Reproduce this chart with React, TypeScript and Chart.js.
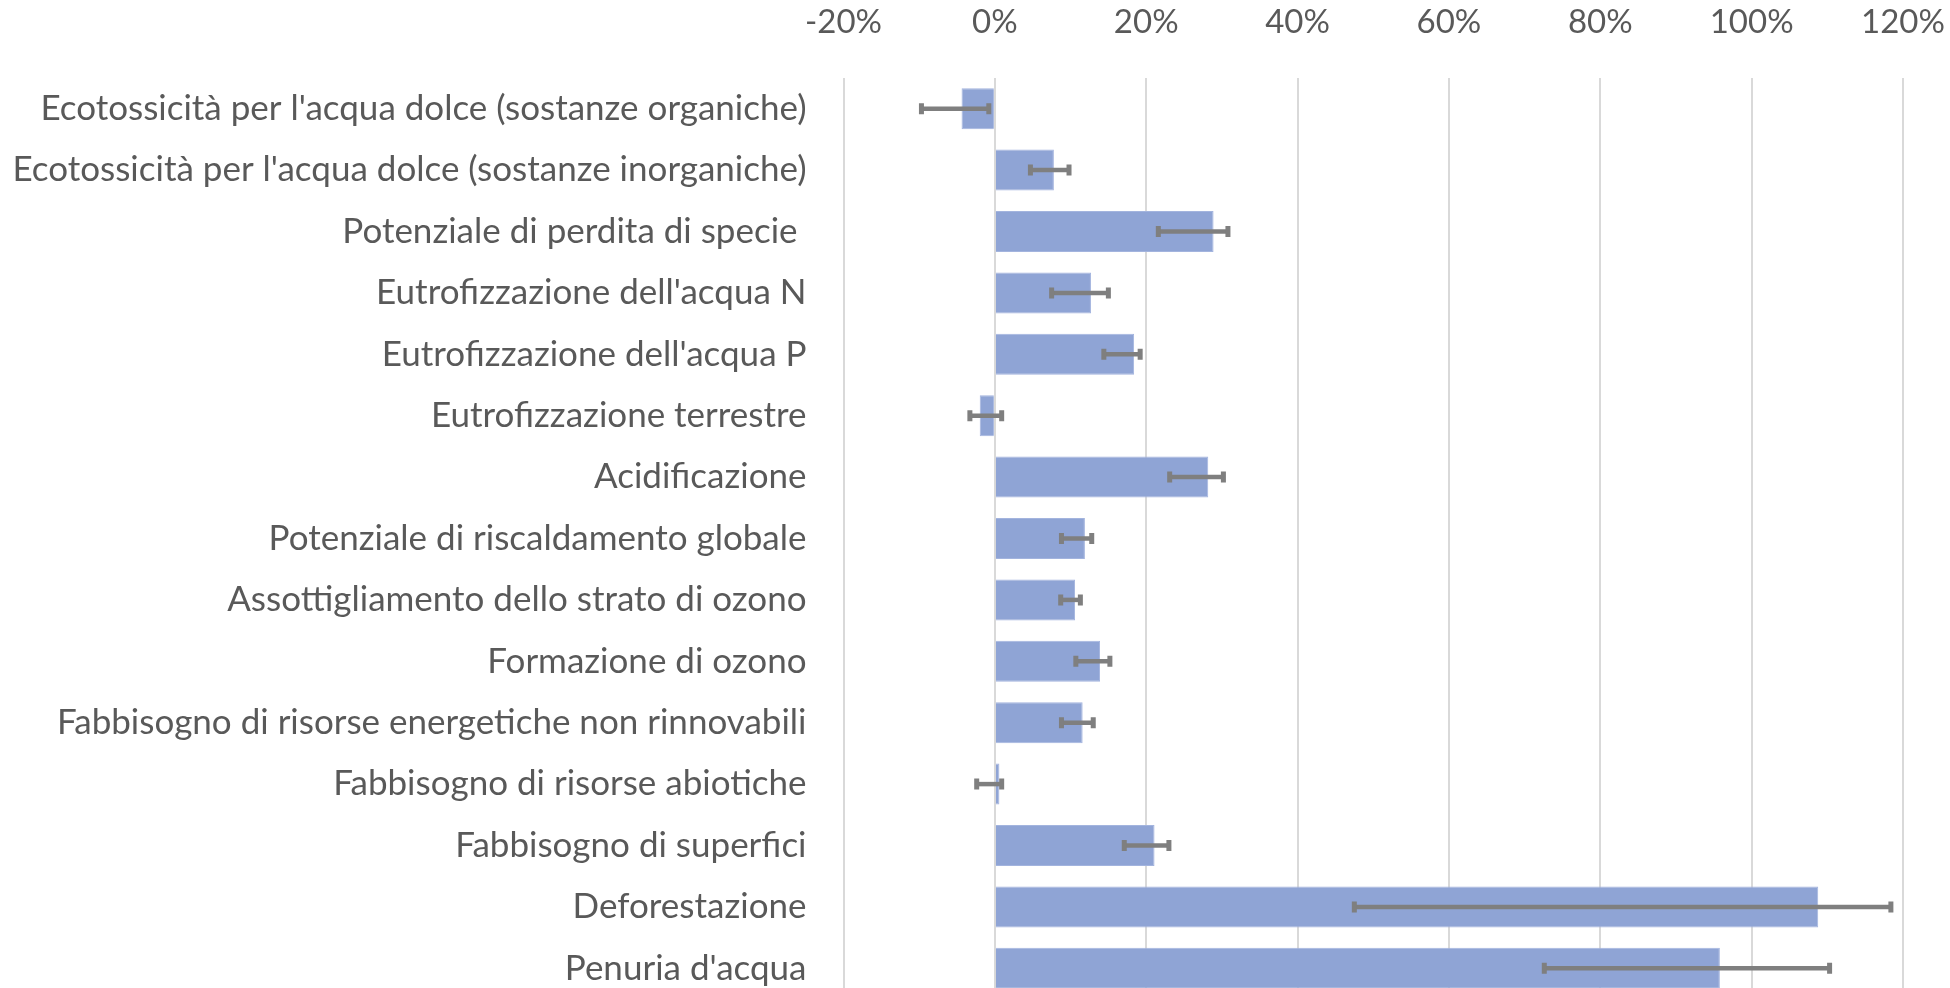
import React, { useEffect, useRef } from "react";
import { Chart, registerables } from "chart.js";

Chart.register(...registerables);

const categories = [
  "Ecotossicità per l'acqua dolce (sostanze organiche)",
  "Ecotossicità per l'acqua dolce (sostanze inorganiche)",
  "Potenziale di perdita di specie ",
  "Eutrofizzazione dell'acqua N",
  "Eutrofizzazione dell'acqua P",
  "Eutrofizzazione terrestre",
  "Acidificazione",
  "Potenziale di riscaldamento globale",
  "Assottigliamento dello strato di ozono",
  "Formazione di ozono",
  "Fabbisogno di risorse energetiche non rinnovabili",
  "Fabbisogno di risorse abiotiche",
  "Fabbisogno di superfici",
  "Deforestazione",
  "Penuria d'acqua",
];

const values = [-4.4, 7.8, 28.9, 12.7, 18.4, -2.0, 28.2, 11.9, 10.6, 13.9, 11.6, 0.6, 21.1, 108.8, 95.8];
const errLow = [-9.7, 4.7, 21.6, 7.5, 14.4, -3.3, 23.1, 8.8, 8.7, 10.7, 8.8, -2.4, 17.1, 47.5, 72.6];
const errHigh = [-0.8, 9.8, 30.8, 15.0, 19.2, 0.9, 30.2, 12.8, 11.3, 15.2, 13.0, 0.9, 23.0, 118.4, 110.3];

const xMin = -20;
const xMax = 120;
const xStep = 20;

const FONT = "Lato";
const TEXT = "#595959";

const errorBarPlugin = {
  id: "errorBars",
  afterDatasetsDraw(chart: any) {
    const { ctx, scales } = chart;
    const xs = scales.x;
    const ys = scales.y;
    ctx.save();
    ctx.strokeStyle = "#7F7F7F";
    ctx.lineCap = "butt";
    for (let i = 0; i < categories.length; i++) {
      const y = ys.getPixelForValue(i);
      const x1 = xs.getPixelForValue(errLow[i]);
      const x2 = xs.getPixelForValue(errHigh[i]);
      ctx.lineWidth = 4.5;
      ctx.beginPath();
      ctx.moveTo(x1, y);
      ctx.lineTo(x2, y);
      ctx.stroke();
      ctx.lineWidth = 5;
      ctx.beginPath();
      ctx.moveTo(x1, y - 5.5);
      ctx.lineTo(x1, y + 5.5);
      ctx.moveTo(x2, y - 5.5);
      ctx.lineTo(x2, y + 5.5);
      ctx.stroke();
    }
    ctx.restore();
  },
};

export default function App() {
  const ref = useRef<HTMLCanvasElement | null>(null);
  useEffect(() => {
    if (!ref.current) return;
    const chart = new Chart(ref.current, {
      type: "bar",
      data: {
        labels: categories,
        datasets: [
          {
            data: values,
            backgroundColor: "#8FA4D5",
            borderColor: "#A3B4DE",
            borderWidth: 1,
            barPercentage: 1,
            categoryPercentage: 0.667,
          },
        ],
      },
      options: {
        indexAxis: "y",
        animation: false,
        responsive: false,
        maintainAspectRatio: false,
        layout: { padding: { left: 0, right: 47, top: 0, bottom: 0 } },
        plugins: {
          legend: { display: false },
          tooltip: { enabled: false },
        },
        scales: {
          x: {
            type: "linear",
            position: "top",
            min: xMin,
            max: xMax,
            ticks: {
              stepSize: xStep,
              callback: (v: any) => v + "%",
              color: TEXT,
              font: { family: FONT, size: 33 },
              padding: 36,
            },
            grid: { color: "#D9D9D9", lineWidth: 2, drawTicks: false },
            border: { display: false },
            afterFit: (s: any) => {
              s.height = 78;
              s.paddingLeft = 0;
              s.paddingRight = 0;
            },
          },
          y: {
            type: "category",
            ticks: {
              color: TEXT,
              font: { family: FONT, size: 35 },
              padding: 37,
              autoSkip: false,
            },
            grid: { display: false, drawTicks: false },
            border: { display: false },
            afterFit: (s: any) => {
              s.width = 843.5;
              s.paddingTop = 0;
              s.paddingBottom = 0;
            },
          },
        },
      },
      plugins: [errorBarPlugin],
    });
    return () => chart.destroy();
  }, []);
  return (
    <div
      style={{
        position: "fixed",
        left: 0,
        top: 0,
        width: 1950,
        height: 988,
        overflow: "hidden",
        background: "#fff",
      }}
    >
      <canvas
        ref={ref}
        width={1950}
        height={999}
        style={{ display: "block", width: 1950, height: 999 }}
      />
    </div>
  );
}
